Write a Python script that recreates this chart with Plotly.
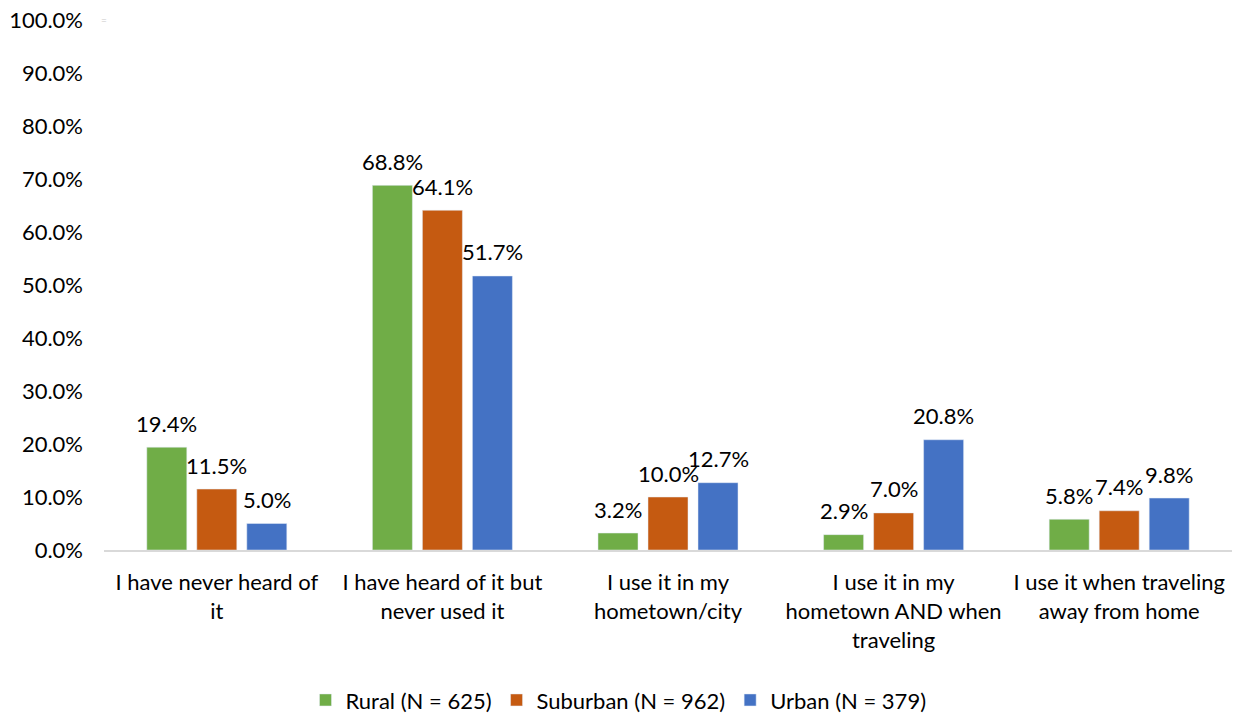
import plotly.graph_objects as go

categories = [
    "I have never heard of<br>it",
    "I have heard of it but<br>never used it",
    "I use it in my<br>hometown/city",
    "I use it in my<br>hometown AND when<br>traveling",
    "I use it when traveling<br>away from home",
]
rural = [19.4, 68.8, 3.2, 2.9, 5.8]
suburban = [11.5, 64.1, 10.0, 7.0, 7.4]
urban = [5.0, 51.7, 12.7, 20.8, 9.8]

series = [
    ("Rural (N = 625)", rural, "#70AD47"),
    ("Suburban (N = 962)", suburban, "#C55A11"),
    ("Urban (N = 379)", urban, "#4472C4"),
]

font_family = "Lato, 'Open Sans', sans-serif"
fs = 22
bargap = 0.335

fig = go.Figure()
for name, vals, color in series:
    fig.add_trace(go.Bar(
        name=name,
        x=categories,
        y=vals,
        marker_color=color,
    ))

# value labels placed above each bar of the group
slot = (1 - bargap) / len(series)
annotations = []
for k, (name, vals, color) in enumerate(series):
    offset = (k - (len(series) - 1) / 2) * slot
    for i, v in enumerate(vals):
        annotations.append(dict(
            x=i + offset, y=v, xref="x", yref="y",
            text=f"{v:.1f}%", showarrow=False,
            xanchor="center", yanchor="middle", yshift=24,
            font=dict(size=fs, color="#000000", family=font_family),
        ))

annotations.append(dict(
    text="=", xref="paper", yref="paper", x=0.0, y=1.0,
    xanchor="center", yanchor="middle", showarrow=False,
    font=dict(size=10, color="#C8C8C8"),
))

fig.update_layout(
    width=1237,
    height=713,
    margin=dict(l=104, r=5, t=20, b=163),
    paper_bgcolor="white",
    plot_bgcolor="white",
    barmode="group",
    bargap=bargap,
    bargroupgap=0.2,
    font=dict(family=font_family, size=fs, color="#000000"),
    legend=dict(
        orientation="h",
        xref="container",
        yref="container",
        x=0.5,
        xanchor="center",
        y=0.018,
        yanchor="middle",
        font=dict(size=fs),
        traceorder="normal",
    ),
    annotations=annotations,
)

fig.update_yaxes(
    range=[0, 100],
    dtick=10,
    ticksuffix="%",
    tickformat=".1f",
    showgrid=False,
    zeroline=False,
    showline=False,
    ticks="",
    ticklabelstandoff=20,
    tickfont=dict(size=fs),
)
fig.update_xaxes(
    showline=True,
    linecolor="#D9D9D9",
    linewidth=2,
    ticks="",
    ticklabelstandoff=12,
    tickfont=dict(size=fs),
)

fig.write_html("out.html")
